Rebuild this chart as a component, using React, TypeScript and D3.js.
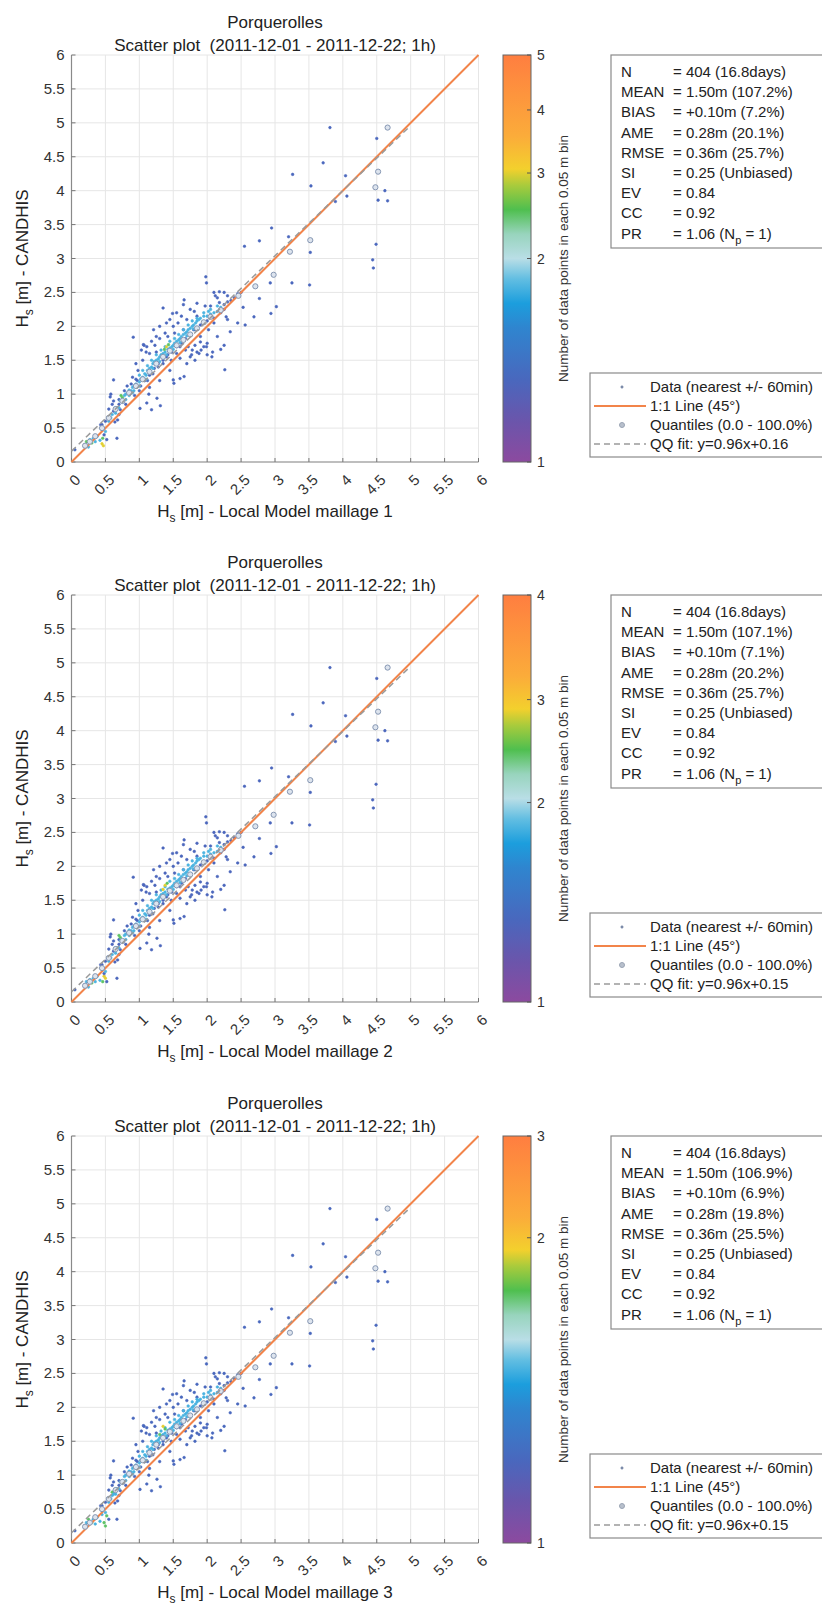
import React from 'react';
import * as d3 from 'd3';

const FONT = '"Liberation Sans", Arial, Helvetica, sans-serif';

// ---------- data ----------
const axisTicks = [0, 0.5, 1, 1.5, 2, 2.5, 3, 3.5, 4, 4.5, 5, 5.5, 6];
const axisTickLabels = ['0', '0.5', '1', '1.5', '2', '2.5', '3', '3.5', '4', '4.5', '5', '5.5', '6'];

const siteName = 'Porquerolles';
const periodTitle = 'Scatter plot  (2011-12-01 - 2011-12-22; 1h)';
const modelNames = ['Local Model maillage 1', 'Local Model maillage 2', 'Local Model maillage 3'];
const colorbarTicks = [[1, 2, 3, 4, 5], [1, 2, 3, 4], [1, 2, 3]];
// relative height of each colorbar tick (0 = bottom, 1 = top)
const colorbarTickPos = [[0, 0.5, 0.71, 0.865, 1], [0, 0.49, 0.743, 1], [0, 0.75, 1]];
const colorbarLabel = 'Number of data points in each 0.05 m bin';
const qqFitLabels = ['QQ fit: y=0.96x+0.16', 'QQ fit: y=0.96x+0.15', 'QQ fit: y=0.96x+0.15'];
const qqFitCoef = [[0.96, 0.16], [0.96, 0.15], [0.96, 0.15]];
const qqFitRange = [0, 4.97];
const legendLabels = ['Data (nearest +/- 60min)', '1:1 Line (45\u00b0)', 'Quantiles (0.0 - 100.0%)'];

const statNames = ['N', 'MEAN', 'BIAS', 'AME', 'RMSE', 'SI', 'EV', 'CC', 'PR'];
const statValues1 = ['= 404 (16.8days)', '= 1.50m (107.2%)', '= +0.10m (7.2%)', '= 0.28m (20.1%)', '= 0.36m (25.7%)', '= 0.25 (Unbiased)', '= 0.84', '= 0.92'];
const statValues2 = ['= 404 (16.8days)', '= 1.50m (107.1%)', '= +0.10m (7.1%)', '= 0.28m (20.2%)', '= 0.36m (25.7%)', '= 0.25 (Unbiased)', '= 0.84', '= 0.92'];
const statValues3 = ['= 404 (16.8days)', '= 1.50m (106.9%)', '= +0.10m (6.9%)', '= 0.28m (19.8%)', '= 0.36m (25.5%)', '= 0.25 (Unbiased)', '= 0.84', '= 0.92'];
const statValues = [statValues1, statValues2, statValues3];
const prValue = ['= 1.06 (N', 'p', ' = 1)'];

// density value attached to each point class (1 isolated, 2 band, 3 green, 4 yellow) per panel
const classDensity = [[1.4, 1.86, 2.52, 3.0], [1.4, 1.88, 2.47, 2.88], [1.27, 1.57, 1.81, 1.95]];

// colormap
const cmapStops = [0, 0.1, 0.2, 0.33, 0.39, 0.45, 0.5, 0.56, 0.62, 0.68, 0.72, 0.8, 1];
const cmapColors = ['#8c4a9f', '#6b55ab', '#4a67bd', '#2f85cf', '#1c9edd', '#62bee2', '#b9dee6', '#98d4bd', '#4fbf4f', '#a9cb3c', '#f3d02d', '#fbac3a', '#ff7e40'];

// [model Hs, CANDHIS Hs, class]
const bandPoints: number[][] = [
  [0.55, 0.6, 2], [0.58, 0.65, 2], [0.6, 0.7, 2], [0.62, 0.75, 1], [0.65, 0.72, 2], [0.67, 0.8, 2], [0.7, 0.85, 1],
  [0.72, 0.9, 2], [0.78, 0.98, 2], [0.8, 1.0, 2], [0.83, 1.02, 1], [0.85, 1.06, 2], [0.88, 1.05, 2], [0.9, 1.1, 2],
  [0.92, 1.12, 2], [0.95, 1.15, 2], [0.97, 1.2, 1], [1.0, 1.18, 2], [1.02, 1.22, 2], [1.05, 1.25, 2], [1.08, 1.3, 2],
  [1.1, 1.28, 2], [1.12, 1.35, 2], [1.15, 1.38, 2], [1.18, 1.4, 2], [1.2, 1.45, 2], [1.22, 1.48, 2], [1.25, 1.5, 2],
  [1.28, 1.52, 2], [1.3, 1.55, 2], [1.32, 1.58, 2], [1.35, 1.6, 2], [1.38, 1.62, 2], [1.42, 1.66, 2], [1.45, 1.68, 2],
  [1.48, 1.7, 2], [1.5, 1.72, 2], [1.52, 1.75, 2], [1.55, 1.78, 2], [1.58, 1.8, 2], [1.6, 1.82, 2], [1.62, 1.85, 2],
  [1.65, 1.88, 2], [1.68, 1.9, 2], [1.7, 1.92, 2], [1.72, 1.95, 2], [1.75, 1.97, 2], [1.78, 2.0, 2], [1.8, 2.02, 2],
  [1.83, 2.05, 2], [1.85, 2.08, 2], [1.88, 2.1, 2], [1.9, 2.12, 2], [1.95, 2.15, 2], [2.0, 2.15, 2], [2.05, 2.18, 2],
  [2.1, 2.2, 2], [2.15, 2.22, 2], [2.2, 2.28, 2], [2.25, 2.32, 1], [2.3, 2.36, 1], [2.35, 2.38, 1], [2.4, 2.42, 1],
  [2.45, 2.48, 1], [2.5, 2.5, 1], [1.0, 1.12, 2], [1.1, 1.22, 2], [1.2, 1.38, 2], [1.3, 1.48, 2], [1.4, 1.58, 2],
  [1.5, 1.66, 2], [1.6, 1.76, 2], [1.7, 1.86, 2], [1.8, 1.96, 2], [0.9, 1.02, 2], [0.8, 0.92, 2], [0.7, 0.8, 2],
];

// points lying around the dense band
const bandEdgePoints: number[][] = [
  [0.65, 0.8, 2], [0.7, 0.92, 1], [0.75, 0.88, 2], [0.78, 1.05, 1], [0.85, 0.98, 2], [0.88, 1.15, 1], [0.92, 1.05, 2],
  [0.95, 1.22, 1], [1.0, 1.28, 2], [1.02, 1.12, 1], [1.05, 1.35, 2], [1.08, 1.2, 1], [1.12, 1.42, 2], [1.15, 1.28, 1],
  [1.18, 1.5, 2], [1.22, 1.38, 1], [1.25, 1.58, 2], [1.28, 1.45, 1], [1.32, 1.65, 2], [1.35, 1.5, 1], [1.38, 1.7, 2],
  [1.42, 1.58, 1], [1.45, 1.78, 2], [1.48, 1.62, 1], [1.52, 1.82, 2], [1.55, 1.7, 1], [1.58, 1.88, 2], [1.62, 1.75, 1],
  [1.65, 1.95, 2], [1.68, 1.82, 1], [1.72, 2.02, 2], [1.75, 1.88, 1], [1.78, 2.08, 2], [1.82, 1.95, 1], [1.85, 2.12, 2],
  [1.9, 2.02, 1], [1.95, 2.2, 2], [2.0, 2.08, 1], [2.05, 2.25, 2], [2.1, 2.12, 1], [2.15, 2.3, 2], [2.2, 2.2, 1],
  [2.25, 2.25, 1], [2.02, 2.22, 2],
];

const spreadPoints: number[][] = [
  [0.45, 0.55, 1], [0.5, 0.6, 1], [0.55, 0.78, 1], [0.6, 0.85, 1], [0.62, 0.9, 1], [0.58, 1.0, 1], [0.68, 0.62, 1],
  [0.7, 0.7, 1], [0.8, 0.85, 1], [0.82, 1.12, 1], [0.9, 1.25, 1], [0.93, 0.98, 1], [0.98, 1.35, 1], [1.0, 1.05, 1],
  [1.05, 1.5, 1], [1.07, 1.72, 1], [1.1, 1.62, 1], [1.12, 1.2, 1], [1.15, 1.6, 1], [1.18, 1.78, 1], [1.2, 1.3, 1],
  [1.23, 1.72, 1], [1.25, 1.62, 1], [1.28, 1.4, 1], [1.3, 1.82, 1], [1.3, 2.0, 1], [1.35, 1.45, 1], [1.38, 1.9, 1],
  [1.4, 1.55, 1], [1.42, 1.85, 1], [1.45, 2.1, 1], [1.47, 1.5, 1], [1.5, 2.0, 1], [1.52, 1.9, 1], [1.55, 1.6, 1],
  [1.57, 2.05, 1], [1.6, 1.7, 1], [1.62, 2.15, 1], [1.65, 1.95, 1], [1.68, 1.65, 1], [1.7, 2.1, 1], [1.72, 1.7, 1],
  [1.75, 2.25, 1], [1.78, 1.65, 1], [1.8, 1.95, 1], [1.82, 1.72, 1], [1.85, 2.15, 1], [1.88, 1.6, 1], [1.9, 1.85, 1],
  [1.95, 1.7, 1], [1.97, 2.3, 1], [2.0, 1.58, 1], [2.02, 1.95, 1], [2.05, 2.3, 1], [2.08, 1.62, 1], [2.1, 2.05, 1],
  [2.12, 2.45, 1], [2.15, 1.85, 1], [2.18, 2.35, 1], [2.25, 2.5, 1], [2.3, 2.1, 1], [2.1, 2.5, 1], [2.3, 2.45, 1],
  [2.15, 2.42, 1], [1.3, 1.2, 1], [1.45, 1.35, 1], [1.7, 1.45, 1], [1.75, 1.55, 1], [1.85, 1.62, 1], [2.0, 1.75, 1],
  [1.15, 1.1, 1], [0.95, 1.45, 1], [1.25, 1.85, 1], [1.4, 2.05, 1], [1.55, 2.2, 1],
];

const outlierPoints: number[][] = [
  [3.81, 4.93, 1], [4.5, 4.77, 1], [3.71, 4.41, 1], [3.26, 4.24, 1], [4.04, 4.22, 1], [3.53, 4.07, 1], [4.62, 4.0, 1],
  [4.06, 3.92, 1], [4.52, 3.86, 1], [4.66, 3.85, 1], [3.89, 3.84, 1], [2.95, 3.45, 1], [2.77, 3.26, 1], [3.2, 3.32, 1],
  [2.55, 3.18, 1], [3.21, 3.09, 1], [3.52, 3.09, 1], [4.49, 3.21, 1], [4.44, 2.98, 1], [4.45, 2.86, 1], [3.51, 2.61, 1],
  [3.25, 2.64, 1], [2.97, 2.76, 1], [2.93, 2.64, 1], [3.02, 2.29, 1], [2.94, 2.19, 1], [2.77, 2.41, 1], [2.69, 2.14, 1],
  [2.56, 2.02, 1], [2.45, 2.05, 1], [2.53, 2.28, 1], [2.34, 1.92, 1], [1.98, 2.73, 1], [1.99, 2.64, 1], [2.18, 2.51, 1],
  [2.28, 2.14, 1], [1.66, 2.39, 1], [1.65, 2.32, 1], [1.85, 2.34, 1], [1.81, 2.22, 1], [1.35, 2.27, 1], [1.49, 2.19, 1],
  [1.21, 1.95, 1], [0.91, 1.84, 1], [1.06, 1.73, 1], [1.11, 1.7, 1], [1.03, 1.65, 1], [1.9, 1.77, 1], [1.99, 1.7, 1],
  [1.91, 1.65, 1], [2.07, 1.55, 1], [2.2, 1.66, 1], [2.25, 1.72, 1], [1.77, 1.58, 1], [1.82, 1.5, 1], [1.6, 1.53, 1],
  [1.5, 1.21, 1], [1.51, 1.16, 1], [1.66, 1.26, 1], [1.6, 1.23, 1], [2.26, 1.36, 1], [1.26, 0.94, 1], [1.31, 0.83, 1],
  [1.18, 0.77, 1], [1.01, 0.79, 1], [1.11, 0.87, 1], [1.14, 1.0, 1], [0.57, 0.96, 1], [0.62, 1.21, 1], [0.72, 0.77, 1],
  [0.64, 0.59, 1], [0.67, 0.35, 1], [0.05, 0.18, 1],
];

const lowPoints1: number[][] = [
  [0.2, 0.25, 2], [0.22, 0.3, 3], [0.25, 0.22, 2], [0.27, 0.33, 2], [0.3, 0.28, 3], [0.32, 0.35, 2], [0.35, 0.3, 2],
  [0.38, 0.38, 2], [0.42, 0.32, 2], [0.45, 0.27, 4], [0.47, 0.24, 4], [0.48, 0.4, 1], [0.5, 0.45, 2], [0.52, 0.33, 1],
  [0.43, 0.55, 1], [0.46, 0.35, 3], [0.75, 0.95, 3], [0.73, 0.98, 3], [1.4, 1.7, 4], [1.37, 1.66, 3], [1.43, 1.73, 3],
];
const lowPoints2: number[][] = [
  [0.2, 0.25, 2], [0.22, 0.3, 2], [0.25, 0.22, 2], [0.27, 0.33, 2], [0.3, 0.28, 3], [0.32, 0.35, 2], [0.35, 0.3, 2],
  [0.38, 0.38, 2], [0.42, 0.32, 2], [0.5, 0.35, 4], [0.48, 0.38, 4], [0.48, 0.42, 1], [0.5, 0.45, 2], [0.52, 0.3, 1],
  [0.43, 0.55, 1], [0.46, 0.3, 3], [0.72, 0.95, 3], [0.7, 0.98, 3], [1.38, 1.72, 4], [1.35, 1.66, 4], [1.41, 1.75, 3],
];
const lowPoints3: number[][] = [
  [0.2, 0.25, 2], [0.22, 0.3, 2], [0.25, 0.35, 3], [0.27, 0.3, 2], [0.3, 0.3, 3], [0.32, 0.35, 2], [0.35, 0.28, 2],
  [0.38, 0.38, 2], [0.42, 0.32, 2], [0.5, 0.25, 3], [0.48, 0.3, 3], [0.52, 0.4, 3], [0.5, 0.45, 2], [0.55, 0.35, 1],
  [0.43, 0.55, 1], [0.45, 0.42, 2], [0.6, 0.75, 3], [0.62, 0.72, 2], [1.35, 1.72, 4], [1.3, 1.6, 3], [1.38, 1.68, 3],
];
const lowPoints = [lowPoints1, lowPoints2, lowPoints3];

// quantile pairs [model, CANDHIS]
const quantilePoints: number[][] = [
  [0.2, 0.24], [0.27, 0.3], [0.35, 0.38], [0.45, 0.5], [0.55, 0.65], [0.65, 0.78], [0.75, 0.9], [0.85, 1.02],
  [0.95, 1.12], [1.05, 1.22], [1.15, 1.33], [1.25, 1.45], [1.35, 1.55], [1.45, 1.64], [1.55, 1.72], [1.65, 1.8],
  [1.75, 1.88], [1.85, 1.97], [1.95, 2.06], [2.05, 2.14], [2.2, 2.24], [2.46, 2.45], [2.71, 2.59], [2.98, 2.76],
  [3.22, 3.1], [3.52, 3.27], [4.48, 4.05], [4.52, 4.28], [4.66, 4.93],
];

// ---------- layout ----------
const W = 822;
const H = 1608;
const panelTops = [55, 595, 1136];
const plotLeft = 71.5;
const plotSize = 407;
const cbLeft = 503;
const cbWidth = 28;

const cmap = d3.scaleLinear<string>().domain(cmapStops).range(cmapColors).interpolate(d3.interpolateRgb);

function Panel({ k }: { k: number }) {
  const top = panelTops[k];
  const bottom = top + plotSize;
  const x = d3.scaleLinear().domain([0, 6]).range([plotLeft, plotLeft + plotSize]);
  const y = d3.scaleLinear().domain([0, 6]).range([bottom, top]);
  const cbFrac = d3.scaleLinear().domain(colorbarTicks[k]).range(colorbarTickPos[k]).clamp(true);
  const cbY = d3.scaleLinear().domain([0, 1]).range([bottom, top]);
  const pts = [...outlierPoints, ...spreadPoints, ...bandEdgePoints, ...bandPoints, ...lowPoints[k]];
  const [a, b] = qqFitCoef[k];
  const line = d3.line<number[]>().x((d) => x(d[0])).y((d) => y(d[1]));
  const cx = plotLeft + plotSize / 2;
  const gradId = `cmap${k}`;
  const statsTop = top;
  const legTop = top + 318;
  const legRows = [legTop + 14, legTop + 33, legTop + 52, legTop + 71];
  return (
    <g>
      {/* titles */}
      <text x={cx} y={top - 27} textAnchor="middle" fontSize={17} fill="#222">{siteName}</text>
      <text x={cx} y={top - 4} textAnchor="middle" fontSize={17} fill="#222" style={{ whiteSpace: 'pre' }}>{periodTitle}</text>
      {/* grid */}
      {axisTicks.map((t) => (
        <g key={'g' + t}>
          <line x1={x(t)} x2={x(t)} y1={top} y2={bottom} stroke="#e6e6e6" strokeWidth={1} />
          <line x1={plotLeft} x2={plotLeft + plotSize} y1={y(t)} y2={y(t)} stroke="#e6e6e6" strokeWidth={1} />
        </g>
      ))}
      {/* axes */}
      <line x1={plotLeft} x2={plotLeft} y1={top} y2={bottom} stroke="#8a8a8a" strokeWidth={1.2} />
      <line x1={plotLeft} x2={plotLeft + plotSize} y1={bottom} y2={bottom} stroke="#8a8a8a" strokeWidth={1.2} />
      {axisTicks.map((t, i) => (
        <g key={'t' + t}>
          <line x1={x(t)} x2={x(t)} y1={bottom} y2={bottom - 4} stroke="#777" />
          <line x1={plotLeft} x2={plotLeft + 4} y1={y(t)} y2={y(t)} stroke="#777" />
          <text x={plotLeft - 7} y={y(t) + 5} textAnchor="end" fontSize={15} fill="#333">{axisTickLabels[i]}</text>
          <text
            x={x(t) + 6}
            y={bottom + 15}
            textAnchor="end"
            dominantBaseline="central"
            fontSize={15}
            fill="#333"
            transform={`rotate(-45 ${x(t) + 6} ${bottom + 15})`}
          >
            {axisTickLabels[i]}
          </text>
        </g>
      ))}
      {/* axis labels */}
      <text x={cx} y={bottom + 55} textAnchor="middle" fontSize={17} fill="#222">
        H<tspan fontSize={12} dy={5}>s</tspan><tspan dy={-5}>{' [m] - ' + modelNames[k]}</tspan>
      </text>
      <text x={28} y={top + plotSize / 2} textAnchor="middle" fontSize={17} fill="#222" transform={`rotate(-90 28 ${top + plotSize / 2})`}>
        H<tspan fontSize={12} dy={5}>s</tspan><tspan dy={-5}>{' [m] - CANDHIS'}</tspan>
      </text>
      {/* data */}
      {pts.map((p, i) => {
        const c = cmap(cbFrac(classDensity[k][p[2] - 1]));
        return <circle key={'p' + i} cx={x(p[0])} cy={y(p[1])} r={1.3} fill={c} stroke={c} strokeWidth={0.6} />;
      })}
      {/* 1:1 line */}
      <path d={line([[0, 0], [6, 6]]) || ''} stroke="#f2844a" strokeWidth={2} fill="none" />
      {/* quantiles */}
      {quantilePoints.map((q, i) => (
        <circle key={'q' + i} cx={x(q[0])} cy={y(q[1])} r={2.6} fill="#dde4ee" stroke="#8697b3" strokeWidth={1} />
      ))}
      {/* qq fit */}
      <path
        d={line(qqFitRange.map((v) => [v, a * v + b])) || ''}
        stroke="#9a9a9a"
        strokeWidth={1.5}
        strokeDasharray="6,4"
        fill="none"
      />
      {/* colorbar */}
      <defs>
        <linearGradient id={gradId} x1="0" y1="1" x2="0" y2="0">
          {cmapStops.map((s, i) => (
            <stop key={i} offset={s} stopColor={cmapColors[i]} />
          ))}
        </linearGradient>
      </defs>
      <rect x={cbLeft} y={top} width={cbWidth} height={plotSize} fill={`url(#${gradId})`} stroke="#666" strokeWidth={1} />
      {colorbarTicks[k].map((t) => (
        <g key={'c' + t}>
          <line x1={cbLeft + cbWidth - 4} x2={cbLeft + cbWidth} y1={cbY(cbFrac(t))} y2={cbY(cbFrac(t))} stroke="#555" />
          <text x={cbLeft + cbWidth + 6} y={cbY(cbFrac(t)) + 5} fontSize={14} fill="#333">{t}</text>
        </g>
      ))}
      <text
        x={568}
        y={top + plotSize / 2}
        textAnchor="middle"
        fontSize={13.5}
        fill="#333"
        transform={`rotate(-90 568 ${top + plotSize / 2})`}
      >
        {colorbarLabel}
      </text>
      {/* stats box */}
      <rect x={611} y={statsTop} width={260} height={193} fill="#fff" stroke="#8a8a8a" strokeWidth={1.2} />
      {statNames.map((n, i) => (
        <g key={'s' + n}>
          <text x={621} y={statsTop + 22 + i * 20.2} fontSize={15} fill="#222">{n}</text>
          {i < 8 ? (
            <text x={673} y={statsTop + 22 + i * 20.2} fontSize={15} fill="#222">{statValues[k][i]}</text>
          ) : (
            <text x={673} y={statsTop + 22 + i * 20.2} fontSize={15} fill="#222">
              {prValue[0]}<tspan fontSize={11} dy={5}>{prValue[1]}</tspan><tspan dy={-5}>{prValue[2]}</tspan>
            </text>
          )}
        </g>
      ))}
      {/* legend */}
      <rect x={590} y={legTop} width={280} height={84} fill="#fff" stroke="#8a8a8a" strokeWidth={1.2} />
      <circle cx={622} cy={legRows[0]} r={1.2} fill="#7a8aa8" stroke="#7a8aa8" strokeWidth={0.6} />
      <line x1={594} x2={646} y1={legRows[1]} y2={legRows[1]} stroke="#f2844a" strokeWidth={2} />
      <circle cx={622} cy={legRows[2]} r={2.5} fill="#b8c0cc" stroke="#9aa4b4" strokeWidth={1} />
      <line x1={594} x2={646} y1={legRows[3]} y2={legRows[3]} stroke="#9a9a9a" strokeWidth={1.5} strokeDasharray="6,4" />
      {[...legendLabels, qqFitLabels[k]].map((l, i) => (
        <text key={'l' + i} x={650} y={legRows[i] + 5} fontSize={15} fill="#222">{l}</text>
      ))}
    </g>
  );
}

export default function App() {
  return (
    <svg
      width={W}
      height={H}
      viewBox={`0 0 ${W} ${H}`}
      style={{ position: 'absolute', left: 0, top: 0, display: 'block', background: '#fff' }}
      fontFamily={FONT}
    >
      <rect x={0} y={0} width={W} height={H} fill="#fff" />
      {[0, 1, 2].map((k) => (
        <Panel key={k} k={k} />
      ))}
    </svg>
  );
}
